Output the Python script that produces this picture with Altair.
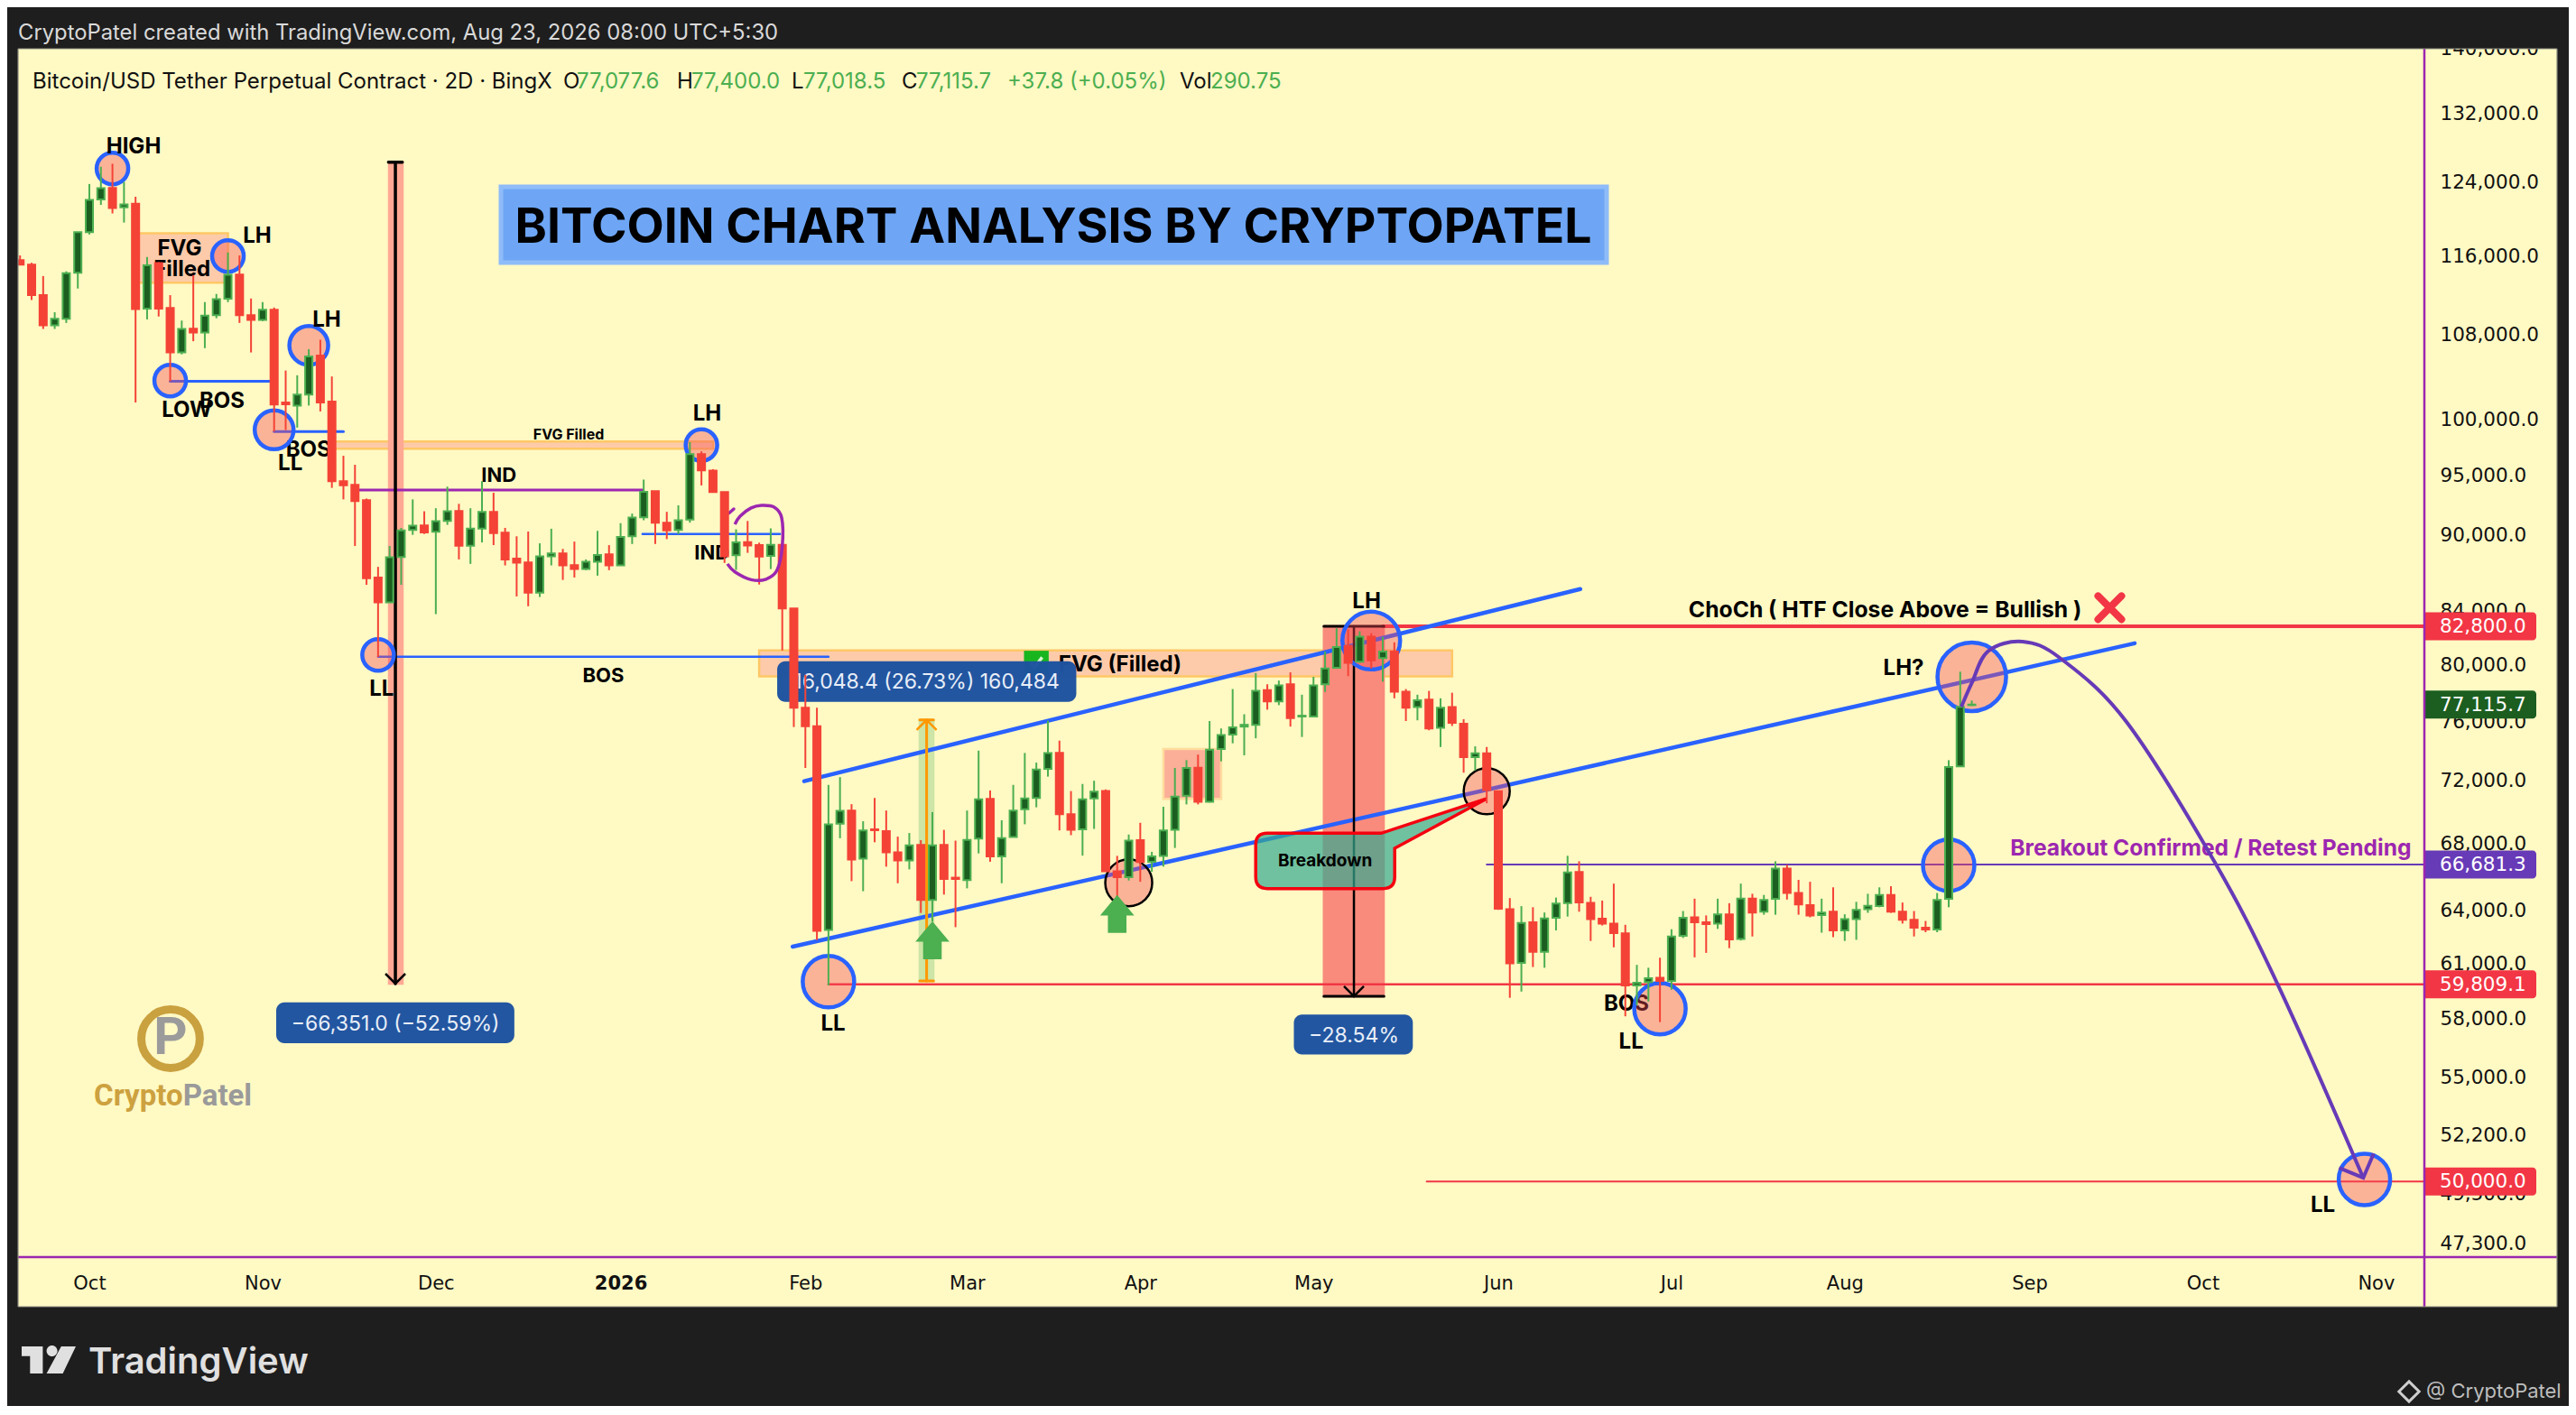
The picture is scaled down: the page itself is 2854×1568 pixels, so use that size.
import altair as alt
import pandas as pd

# ---------- candles (2D bars, bar index 0 = first October bar): open, high, low, close ----------
bar_start = -6
ohlc = [
(115480,115960,114940,115000),(115000,115190,111360,111855),(111855,113810,108470,108825),(108825,110130,108470,109480),
(109480,114300,109065,114110),(114150,118447,112525,118447),(118447,123735,118190,121970),(122010,125690,121410,123270),
(123305,126030,120470,121070),(121140,123965,119475,121470),(121540,122310,101460,110440),(110500,115800,109415,114935),
(115155,115250,109705,110500),(110560,111855,103435,106180),(106180,109300,106000,108470),(108505,113900,107270,108120),
(108120,111150,106595,109800),(109830,111975,109530,111450),(111490,116275,111150,113930),(113965,115960,109065,109830),
(109830,111515,106180,109355),(109355,111150,109240,110385),(110385,110600,98825,101270),(101460,104450,98955,101295),
(101180,104000,99175,102200),(102200,106500,101180,105800),(105890,107410,100640,101460),(101545,103890,93890,94465),
(94465,96670,92915,94120),(94150,95880,89060,92770),(92850,92985,85975,86500),(86550,87390,80520,84610),
(84610,89060,84610,88150),(88180,90540,85975,90340),(90370,92915,89970,90730),(90745,91915,90040,90170),
(90220,92170,83720,91090),(91110,93995,90790,91915),(91945,92540,87985,89085),(89085,92170,87625,90490),
(90490,94465,89350,91870),(91870,93475,89135,90120),(90145,90540,87505,87985),(88055,89850,85075,87720),
(87745,90240,84320,85370),(85370,89280,85030,88225),(88225,90470,87505,88465),(88465,88825,86360,87505),
(87530,89421,86550,87215),(87215,87985,87130,87790),(87790,90295,86695,88345),(88395,89135,87130,87505),
(87505,90930,87505,89795),(89850,91725,89225,91395),(91420,94600,91170,93555),(93610,93610,89225,90970),
(90970,91870,89620,90340),(90370,92415,90040,91170),(91225,97875,90970,96805),(96805,97062,94100,95400),
(95370,95500,93530,93530),(93530,93530,87700,88225),(88320,90420,87150,89350),(89370,91110,88510,89110),
(89135,89330,86000,88215),(88265,90500,87215,89155),(89155,89200,81000,84157),(84157,84157,75560,76890),
(76890,79230,72800,75620),(75620,76890,62260,62785),(62840,71690,59755,69170),(69205,72195,68300,70020),
(70040,70445,65690,66990),(67045,69360,65090,68785),(68855,70845,68050,68800),(68745,70040,66560,67430),
(67430,68400,65565,66930),(66930,68625,66395,67855),(67890,68180,63820,64575),(64575,69940,63320,67855),
(67890,68820,64890,65820),(65895,68150,63000,65820),(65750,70040,65260,68200),(68280,73955,67365,70760),
(70785,71330,66855,67175),(67175,69420,65565,68300),(68370,71690,68370,70040),(70120,73800,69170,70810),
(70845,73155,70245,72700),(72740,76000,72230,73785),(73810,74630,68785,69805),(69805,71290,68490,68820),
(68855,71750,67230,70760),(70810,71960,68880,71250),(71290,71395,66250,66285),(66285,67215,64720,65930),
(65930,68530,65725,68155),(68180,69265,65650,66840),(66855,67460,66250,67175),(67215,70280,66560,68785),
(68820,72800,67700,70930),(70990,73320,70430,72800),(72810,73690,70430,70600),(70600,75970,70550,74020),
(74070,75460,73240,75005),(75035,78210,74450,75540),(75590,76440,73640,75710),(75710,79355,74790,78080),
(78130,78550,76760,77345),(77345,78815,77075,78475),(78550,79405,75590,76180),(76285,77810,74880,76340),
(76285,79085,76225,78475),(78550,80915,78005,79680),(79740,82650,79680,81245),(81330,82570,79130,80090),
(80170,82420,80090,82030),(82030,82280,79680,80280),(80445,82000,78735,80915),(80915,81600,77555,78020),
(78020,78210,75970,76890),(76940,77810,76020,77420),(77470,78080,75335,75460),(75510,77555,74200,76890),
(76940,77950,75630,75840),(75790,76100,72490,73515),(73515,74245,72640,73780),(73780,74200,70505,71350),
(71275,71275,64000,64065),(64040,64685,59085,60965),(60990,64215,59420,63245),(63285,64150,60760,61600),
(61600,63845,60720,63500),(63545,64715,62815,64365),(64385,67220,63610,66215),(66235,66885,63890,64425),
(64405,64760,62215,63465),(63485,64540,63095,63205),(63205,65540,61855,62665),(62645,63135,58100,59750),
(59750,60880,58690,59895),(59935,60720,58885,60145),(60165,61275,57795,59995),(59995,62880,59520,62470),
(62510,63930,62385,63545),(63565,64650,61295,63285),(63285,63675,61545,63180),(63205,64650,62900,63740),
(63740,64385,61810,62305),(62325,65540,62240,64650),(64650,64940,62470,63845),(63890,64870,63715,64580),
(64645,66885,63715,66440),(66440,66665,64600,64985),(64985,65765,63715,64315),(64275,65650,63565,63675),
(63695,64650,62685,63845),(63890,65320,62430,62815),(62815,63740,62215,63465),(63465,64465,62280,63995),
(64040,64940,63825,64235),(64215,65320,64150,64870),(64870,65385,63825,63890),(63890,64425,63205,63420),
(63420,63930,62470,62965),(62965,63355,62710,62860),(62860,64985,62710,64580),(64645,73315,64150,72857),
(72905,79455,72905,76965),(77077.6,77400,77018.5,77115.7),
]

# ---------- axes ----------
price_ticks = [140000,132000,124000,116000,108000,100000,95000,90000,84000,80000,76000,72000,68000,64000,61000,58000,55000,52200,49500,47300]
month_bars = [0,15,30,46,62,76,91,106,122,137,152,168,183,198]
month_names = ['Oct','Nov','Dec','2026','Feb','Mar','Apr','May','Jun','Jul','Aug','Sep','Oct','Nov']

# ---------- price tags ----------
tag_prices = [82800,77115.7,66681.3,59809.1,50000]
tag_text = ['82,800.0','77,115.7','66,681.3','59,809.1','50,000.0']
tag_fill = ['#f23645','#1b5e20','#673ab7','#f23645','#f23645']

# ---------- straight drawings ----------
seg_i0 = [7,16,25,23.4,47.9,112,121,64,115.8,61.9,60.9,26.5,25.9,109.5,106.9,106.9,72.5,71.9,71.9,55.4]
seg_i1 = [16,22,64,47.9,59.8,202.2,202.2,202.2,202.2,129.1,177.1,26.5,27.1,109.5,112.1,112.1,72.5,73.1,73.1,55.8]
seg_p0 = [103435,98825,80540,93710,90040,82800,66681.3,59809.1,50000,71935,61895,126200,126200,82800,82800,59169,76048,76048,60000,91770]
seg_p1 = [103435,98825,80540,93710,90040,82800,66681.3,59809.1,50000,85645,81530,59849,126200,59169,82800,59169,60000,76048,60000,92110]
seg_col = ['#2962ff','#2962ff','#2962ff','#9c27b0','#2962ff','#f23645','#673ab7','#f23645','#f23645','#2962ff','#2962ff','#000000','#000000','#000000','#000000','#000000','#ff9800','#ff9800','#ff9800','#9c27b0']
seg_w = [3,3,2.5,3,2.5,4,2,2.5,2,4.5,4.5,3.5,3.5,2.5,3,3,3,3,3,3.5]

# ---------- boxes ----------
box_i0 = [4,21,58,93,25.95,106.9,71.9]
box_i1 = [12,54,118,98,27.12,112.08,73.08]
box_p0 = [118315,97930,81010,74070,126200,82800,76048]
box_p1 = [113130,97280,79120,70780,59849,59169,60000]
box_fill = ['#fdcbaa','#fdcbaa','#fdcbaa','#fbae98','#ffa994','#f98b7c','#cde5a6']
box_edge = ['#ffc766','#ffc766','#ffc766','#ffdc9e','#ffa994','#f98b7c','#cde5a6']

# ---------- circles ----------
circ_i = [2,12,7,19,16,25,53,64,111,90,121,163,161,136,197]
circ_p = [125480,115890,103500,106860,98970,80670,97605,59955,81730,65595,71280,79083,66640,58505,50100]
circ_d = [35,35,35,43,43,35,35,57,64,52,51,76,57,57,57]
circ_edge = ['#2962ff']*9 + ['#000000','#000000'] + ['#2962ff']*4
circ_w = [4.5]*9 + [2.5,2.5] + [4.5]*4

# ---------- projected path and loop ----------
path_i = [162.1,163,164.4,167.4,170.7,176.4,184.1,189.6,196.9]
path_p = [76960,78640,80935,81660,80410,75907,66750,59660,50170]
head_i = [194.8,196.9,197.8]
head_p = [50630,50170,51295]
loop_i = [55.9,56.35,57.3,58.2,59.3,59.95,60.0,59.55,58.6,57.3,55.9,55.25]
loop_p = [90840,91510,92190,92415,92265,91370,89060,87130,86420,86380,86990,87625]

# ---------- annotation text ----------
note_t = ['FVG','Filled','LOW','BOS','BOS','LL','IND','IND','LL','BOS','LL','FVG (Filled)','BOS','LL','LL']
note_i = [7.82,8.03,8.44,11.49,18.97,17.4,35.46,53.9,25.3,44.5,64.4,89.25,133.1,133.5,193.4]
note_p = [116750,114550,100800,101630,97250,96070,95035,88580,78280,79260,57740,80010,58790,56820,49000]
note_s = [24,24,24,24,24,24,22,22,24,22,24,24,24,24,24]
top_t = ['HIGH','LH','LH','LH','FVG Filled','LH','LH?','ChoCh ( HTF Close Above = Bullish )','Breakout Confirmed / Retest Pending']
top_i = [3.83,14.54,20.55,53.5,41.5,110.6,157.1,155.5,183.7]
top_p = [128070,118120,109415,100500,98600,84760,79740,84040,67690]
top_s = [24,24,24,24,16,24,24,24.7,24.6]
top_c = ['#000000']*8 + ['#9c27b0']

# ---------- measure labels ----------
lab_t = ['\u221266,351.0 (\u221252.59%)','16,048.4 (26.73%) 160,484','\u221228.54%']
lab_i = [26.5,72.5,109.5]
lab_p = [57740,78735,57140]
lab_i0 = [16.18,59.56,104.3]
lab_i1 = [36.8,85.46,114.6]
lab_p0 = [58836,80208,58194]
lab_p1 = [56700,77305,56120]

# ---------- shapes ----------
ARROW_UP = 'M0,-1 L.9,.08 L.49,.08 L.49,1 L-.49,1 L-.49,.08 L-.9,.08 Z'
up_i = [73,89]
up_p = [62257,63758]
CALLOUT = 'M-.9,-.239 L.086,-.239 L1,-.539 L.203,-.109 L.203,.14 Q.203,.24 .103,.24 L-.9,.24 Q-1,.24 -1,.14 L-1,-.139 Q-1,-.239 -.9,-.239 Z'
CROSS = 'M-1,-1 L1,1 M-1,1 L1,-1'
HEAD_DOWN = 'M-1,-1 L0,0 L1,-1'
HEAD_UP = 'M-1,1 L0,0 L1,1'
CHECK = 'M-.8,0 L-.25,.6 L.8,-.8'
TV_ICON = 'M-1,-.5 L-.22,-.5 L-.22,.5 L-.69,.5 L-.69,-.14 L-1,-.14 Z M-.08,-.33 A.2,.2 0 1 0 .32,-.33 A.2,.2 0 1 0 -.08,-.33 Z M.46,-.5 L1,-.5 L.52,.5 L-.08,.5 Z'

DARK = '#1e1e1e'
CREAM = '#fff9c4'
ANNOT = 'Inter'
AXISF = 'DejaVu Sans'
X0, Y0 = 20, 52
W, H = 2666, 1341

sx = alt.Scale(domain=[-6.174, 202.19], nice=False, zero=False, padding=0)
sy = alt.Scale(type='log', domain=[46687, 140140], nice=False, zero=False, padding=0)

names_js = str(month_names)
bars_js = str(month_bars)
x_axis = alt.Axis(orient='bottom', values=month_bars, title=None, grid=False, ticks=False, domain=False,
                  labelExpr=f"{names_js}[indexof({bars_js}, datum.value)]",
                  labelFont=AXISF, labelFontSize=21, labelColor='#111111', labelPadding=18, labelOverlap=False,
                  labelFlush=False, labelBound=False,
                  labelFontWeight={'condition': {'test': 'datum.value == 46', 'value': 'bold'}, 'value': 'normal'})
y_axis = alt.Axis(orient='right', values=price_ticks, title=None, grid=False, ticks=False, domain=False,
                  format=',.1f', labelFont=AXISF, labelFontSize=21.5, labelColor='#111111', labelPadding=17,
                  labelOffset=1.5, labelOverlap=False, labelFlush=False, labelBound=False)
def X(f, **k): return alt.X(f, type='quantitative', scale=sx, axis=x_axis, **k)
def Y(f, **k): return alt.Y(f, type='quantitative', scale=sy, axis=y_axis, **k)

candles = pd.DataFrame(ohlc, columns=['o', 'h', 'l', 'c'])
candles['i'] = range(bar_start, bar_start + len(ohlc))
candles['up'] = candles.c >= candles.o
candles['body'] = ['#1b5e20' if u else '#f44336' for u in candles.up]
candles['edge'] = ['#4caf50' if u else '#f44336' for u in candles.up]

boxes = alt.Chart(pd.DataFrame({'a': box_i0, 'b': box_i1, 'p': box_p0, 'q': box_p1, 'f': box_fill, 'e': box_edge})).mark_rect(strokeWidth=2.5).encode(
    x=X('a'), x2='b', y=Y('p'), y2='q',
    fill=alt.Fill('f:N', scale=None), stroke=alt.Stroke('e:N', scale=None))

notes = alt.Chart(pd.DataFrame({'t': note_t, 'i': note_i, 'p': note_p, 's': note_s})).mark_text(font=ANNOT, fontWeight='bold', color='#000000', dy=1.5).encode(
    x=X('i'), y=Y('p'), text='t:N', size=alt.Size('s:Q', scale=None))

segs = alt.Chart(pd.DataFrame({'a': seg_i0, 'b': seg_i1, 'p': seg_p0, 'q': seg_p1, 'c': seg_col, 'w': seg_w})).mark_rule(strokeCap='round').encode(
    x=X('a'), x2='b', y=Y('p'), y2='q',
    color=alt.Color('c:N', scale=None), strokeWidth=alt.StrokeWidth('w:Q', scale=None))

circles = alt.Chart(pd.DataFrame({'i': circ_i, 'p': circ_p, 'd': [d*d for d in circ_d], 'e': circ_edge, 'w': circ_w})).mark_circle(
    opacity=1, fill='#f54a56', fillOpacity=0.4).encode(
    x=X('i'), y=Y('p'), size=alt.Size('d:Q', scale=None),
    stroke=alt.Stroke('e:N', scale=None), strokeWidth=alt.StrokeWidth('w:Q', scale=None))

check_bg = alt.Chart(pd.DataFrame({'i': [82], 'p': [80075]})).mark_point(shape='square', filled=True, opacity=1, color='#19b51f', size=750).encode(x=X('i'), y=Y('p'))
check_mark = alt.Chart(pd.DataFrame({'i': [82], 'p': [80075]})).mark_point(shape=CHECK, size=256, stroke='#d8f5d0', strokeWidth=3.5, opacity=1).encode(x=X('i'), y=Y('p'))

lab_df = pd.DataFrame({'t': lab_t, 'i': lab_i, 'p': lab_p, 'a': lab_i0, 'b': lab_i1, 'u': lab_p0, 'v': lab_p1})
lab_box = alt.Chart(lab_df).mark_rect(fill='#1e53a0', cornerRadius=9, opacity=0.98).encode(x=X('a'), x2='b', y=Y('u'), y2='v')
lab_txt = alt.Chart(lab_df).mark_text(font='Inter', fontSize=23, color='#e8eef8', dy=1).encode(x=X('i'), y=Y('p'), text='t:N')

callout = alt.Chart(pd.DataFrame({'i': [111], 'p': [66910]})).mark_point(
    shape=CALLOUT, filled=True, size=65536, fill='#33a990', fillOpacity=0.7, stroke='#f4000f', strokeWidth=3.5, opacity=1, strokeOpacity=1
).encode(x=X('i'), y=Y('p'))
callout_txt = alt.Chart(pd.DataFrame({'i': [107], 'p': [66965], 't': ['Breakdown']})).mark_text(
    font=ANNOT, fontWeight='bold', fontSize=19, color='#000000', dy=1).encode(x=X('i'), y=Y('p'), text='t:N')

wicks = alt.Chart(candles).mark_rule(strokeWidth=2).encode(x=X('i'), y=Y('l'), y2='h', color=alt.Color('edge:N', scale=None))
bodies = alt.Chart(candles).mark_bar(size=8, strokeWidth=2).encode(
    x=X('i'), y=Y('o'), y2='c', fill=alt.Fill('body:N', scale=None), stroke=alt.Stroke('edge:N', scale=None))

arrows_up = alt.Chart(pd.DataFrame({'i': up_i, 'p': up_p})).mark_point(shape=ARROW_UP, filled=True, size=1764, color='#4caf50', opacity=1).encode(x=X('i'), y=Y('p'))
head_black = alt.Chart(pd.DataFrame({'i': [26.5, 109.5], 'p': [59849, 59169]})).mark_point(shape=HEAD_DOWN, size=484, stroke='#000000', strokeWidth=2.5, opacity=1).encode(x=X('i'), y=Y('p'))
head_orange = alt.Chart(pd.DataFrame({'i': [72.5], 'p': [76048]})).mark_point(shape=HEAD_UP, size=484, stroke='#ff9800', strokeWidth=2.5, opacity=1).encode(x=X('i'), y=Y('p'))
tops = alt.Chart(pd.DataFrame({'t': top_t, 'i': top_i, 'p': top_p, 's': top_s, 'c': top_c})).mark_text(font=ANNOT, fontWeight='bold', dy=1.5).encode(
    x=X('i'), y=Y('p'), text='t:N', size=alt.Size('s:Q', scale=None), color=alt.Color('c:N', scale=None))
cross = alt.Chart(pd.DataFrame({'i': [174.95], 'p': [84210]})).mark_point(shape=CROSS, size=676, stroke='#f23645', strokeWidth=8, strokeCap='round', opacity=1).encode(x=X('i'), y=Y('p'))

path = alt.Chart(pd.DataFrame({'i': path_i, 'p': path_p, 'o': range(len(path_i))})).mark_line(color='#673ab7', strokeWidth=4, interpolate='cardinal').encode(x=X('i'), y=Y('p'), order='o:Q')
head = alt.Chart(pd.DataFrame({'i': head_i, 'p': head_p, 'o': range(3)})).mark_line(color='#673ab7', strokeWidth=4).encode(x=X('i'), y=Y('p'), order='o:Q')
loop = alt.Chart(pd.DataFrame({'i': loop_i, 'p': loop_p, 'o': range(len(loop_i))})).mark_line(color='#9c27b0', strokeWidth=3.5, interpolate='cardinal').encode(x=X('i'), y=Y('p'), order='o:Q')

# logo (drawn in price space, bottom left of the chart)
ring = alt.Chart(pd.DataFrame({'i': [7.03], 'p': [56930]})).mark_point(size=4200, stroke='#c9a13f', strokeWidth=9, opacity=1, shape='circle').encode(x=X('i'), y=Y('p'))
logo_p = alt.Chart(pd.DataFrame({'i': [7.03], 'p': [56930], 't': ['P']})).mark_text(font='Roboto', fontWeight='bold', fontSize=58, color='#9b9b9b').encode(x=X('i'), y=Y('p'), text='t:N')
logo_a = alt.Chart(pd.DataFrame({'i': [8.1], 'p': [54020], 't': ['Crypto']})).mark_text(font='Roboto', fontWeight='bold', fontSize=33, color='#cda13f', align='right').encode(x=X('i'), y=Y('p'), text='t:N')
logo_b = alt.Chart(pd.DataFrame({'i': [8.1], 'p': [54020], 't': ['Patel']})).mark_text(font='Roboto', fontWeight='bold', fontSize=33, color='#9a9a9a', align='left').encode(x=X('i'), y=Y('p'), text='t:N')

one = pd.DataFrame({'a': [0]})
def rect(x0, x1, y0, y1, fill, **k):
    return alt.Chart(one).mark_rect(fill=fill, **k).encode(
        x=alt.value(x0 - X0), x2=alt.value(x1 - X0), y=alt.value(y0 - Y0), y2=alt.value(y1 - Y0))
def rule(x0, x1, y0, y1, color, w):
    return alt.Chart(one).mark_rule(color=color, strokeWidth=w).encode(
        x=alt.value(x0 - X0), x2=alt.value(x1 - X0), y=alt.value(y0 - Y0), y2=alt.value(y1 - Y0))
def text(t, x, y, size, color, font='Inter', weight='normal', align='left'):
    return alt.Chart(one).mark_text(text=t, font=font, fontSize=size, color=color, fontWeight=weight, align=align, baseline='middle').encode(
        x=alt.value(x - X0), y=alt.value(y - Y0))

# title banner
banner = rect(555, 1780, 207, 291, '#6ea6f5', stroke='#8fbcf8', strokeWidth=5)
banner_t = text('BITCOIN CHART ANALYSIS BY CRYPTOPATEL', 1167, 253, 53.5, '#000000', 'Inter', 'bold', 'center')

# status line
status = [('Bitcoin/USD Tether Perpetual Contract \u00b7 2D \u00b7 BingX', 36, '#111111'), ('O', 624, '#111111'), ('77,077.6', 639, '#4caf50'),
          ('H', 750, '#111111'), ('77,400.0', 766, '#4caf50'), ('L', 877, '#111111'), ('77,018.5', 890, '#4caf50'),
          ('C', 999, '#111111'), ('77,115.7', 1015, '#4caf50'), ('+37.8 (+0.05%)', 1116, '#4caf50'),
          ('Vol', 1307, '#111111'), ('290.75', 1341, '#4caf50')]
status_layers = [text(t, x, 91, 24, c) for t, x, c in status]

# tags
tag_df = pd.DataFrame({'p': tag_prices, 't': tag_text, 'f': tag_fill})
tag_rect = alt.Chart(tag_df).mark_rect(height=31, cornerRadiusTopRight=4, cornerRadiusBottomRight=4).encode(
    x=alt.value(2686 - X0), x2=alt.value(2810 - X0), y=Y('p'), fill=alt.Fill('f:N', scale=None))
tag_txt = alt.Chart(tag_df).mark_text(font=AXISF, fontSize=21.5, color='#ffffff', align='left', dy=1).encode(
    x=alt.value(2703 - X0), y=Y('p'), text='t:N')

chrome = [
    rule(2686, 2686, 52, 1448, '#9c27b0', 2.5),
    rule(20, 2833, 1393, 1393, '#9c27b0', 2.5),
    rect(0, 2846, 0, 54, DARK),
    rect(0, 20, 0, 1560, DARK),
    rect(2833, 2846, 0, 1560, DARK),
    rect(0, 2846, 1448, 1560, DARK),
    rule(20, 2833, 54, 54, '#8a8a80', 1.2),
    rule(20, 2833, 1448, 1448, '#8a8a80', 1.2),
    rule(20, 20, 54, 1448, '#8a8a80', 1.2),
    rule(2833, 2833, 54, 1448, '#8a8a80', 1.2),
    text('CryptoPatel created with TradingView.com, Aug 23, 2026 08:00 UTC+5:30', 20, 37, 23.8, '#d9d9d9'),
    text('TradingView', 98, 1510, 40, '#e0e0e0', 'Inter', 600),
    alt.Chart(one).mark_point(shape=TV_ICON, filled=True, size=3600, color='#e0e0e0', opacity=1).encode(x=alt.value(54 - X0), y=alt.value(1507 - Y0)),
    alt.Chart(one).mark_point(shape='diamond', size=500, stroke='#cfcfcf', strokeWidth=3, opacity=1).encode(x=alt.value(2669 - X0), y=alt.value(1542 - Y0)),
    text('@ CryptoPatel', 2688, 1542, 22, '#bdbdbd'),
]

chart = alt.layer(
    boxes, notes, segs, check_bg, check_mark, circles, lab_box, lab_txt, callout, callout_txt,
    wicks, bodies, arrows_up, head_black, head_orange, tops, cross, path, head, loop,
    ring, logo_p, logo_a, logo_b, banner, banner_t, *status_layers, tag_rect, tag_txt, *chrome
).properties(
    width=W, height=H, background=CREAM,
    padding={'left': X0 - 8, 'top': Y0 - 8, 'right': 2846 - X0 - W, 'bottom': 1558 - Y0 - H},
    autosize=alt.AutoSizeParams(type='none')
).configure_view(strokeWidth=0)

chart.save("out.html", embed_options={"renderer": "svg", "actions": False})
